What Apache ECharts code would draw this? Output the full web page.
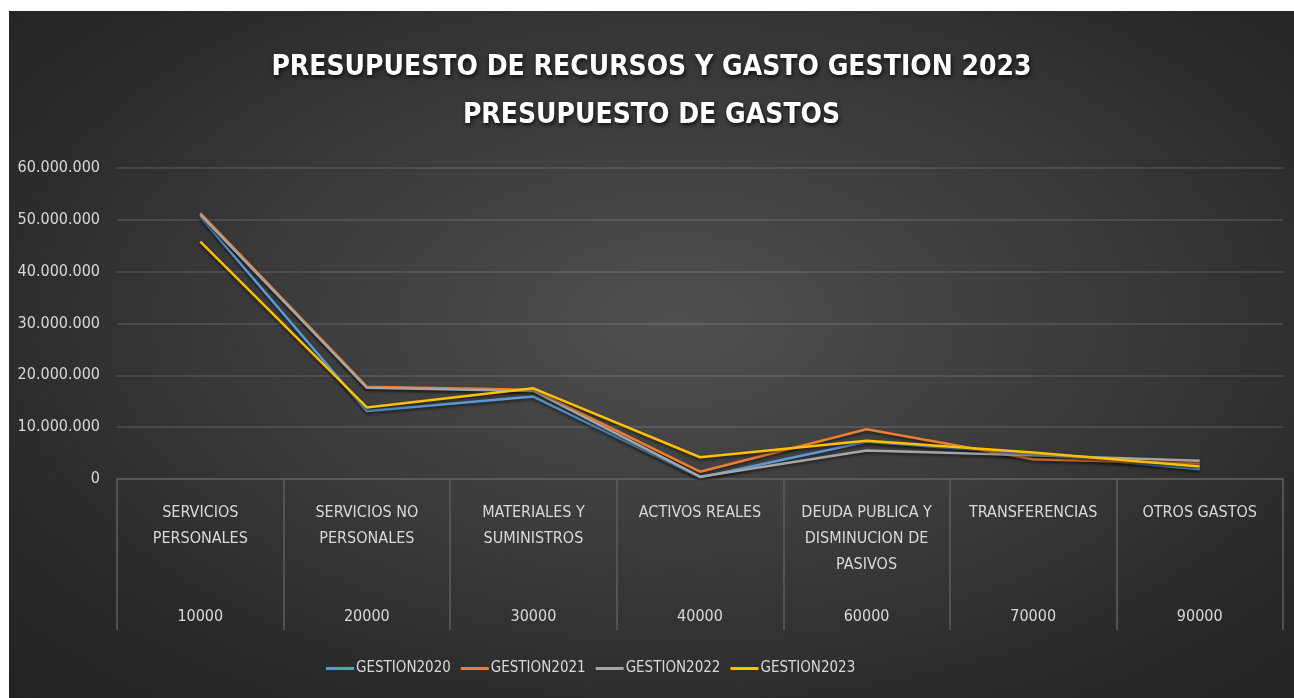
<!DOCTYPE html>
<html>
<head>
<meta charset="utf-8">
<script src="https://cdn.jsdelivr.net/npm/echarts@6/dist/echarts.min.js"></script>
<style>
  html, body { margin: 0; padding: 0; background: #fff; }
  #chart {
    position: absolute;
    left: 9px;
    top: 11px;
    width: 1285px;
    height: 687px;
    background: radial-gradient(ellipse at 52% 45%, #4f4f4f 0%, #3a3a3a 45%, #282828 80%, #232323 100%);
  }
</style>
</head>
<body>
<div id="chart"></div>
<script>
const categories = [
  "SERVICIOS\nPERSONALES",
  "SERVICIOS NO\nPERSONALES",
  "MATERIALES Y\nSUMINISTROS",
  "ACTIVOS REALES",
  "DEUDA PUBLICA Y\nDISMINUCION DE\nPASIVOS",
  "TRANSFERENCIAS",
  "OTROS GASTOS"
];
const codes = ["10000", "20000", "30000", "40000", "60000", "70000", "90000"];

const gestion2020 = [50600000, 13100000, 15900000, 300000, 7200000, 4800000, 1900000];
const gestion2021 = [51300000, 17800000, 17200000, 1400000, 9600000, 3800000, 3000000];
const gestion2022 = [51000000, 17600000, 17000000, 450000, 5500000, 4600000, 3500000];
const gestion2023 = [45800000, 13800000, 17500000, 4200000, 7400000, 5100000, 2400000];

const seriesNames = ["GESTION2020", "GESTION2021", "GESTION2022", "GESTION2023"];
const seriesColors = ["#5B9BD5", "#ED7D31", "#A5A5A5", "#FFC000"];

const FONT = "'DejaVu Sans Condensed', sans-serif";
const LABEL = "#d9d9d9";

function dots(v) {
  return String(v).replace(/\B(?=(\d{3})+(?!\d))/g, ".");
}

// category name padded to three lines, blank line, then the code
const xLabels = categories.map((c, i) => {
  const lines = c.split("\n");
  while (lines.length < 4) lines.push(" ");
  return lines.join("\n") + "\n" + codes[i];
});

const chart = echarts.init(document.getElementById("chart"));

chart.setOption({
  backgroundColor: "transparent",
  animation: false,
  title: {
    text: "PRESUPUESTO DE RECURSOS Y GASTO GESTION 2023\nPRESUPUESTO DE GASTOS",
    left: "center",
    top: 28,
    textStyle: {
      color: "#ffffff",
      fontFamily: FONT,
      fontWeight: "bold",
      fontSize: 28,
      lineHeight: 48,
      textShadowColor: "rgba(0,0,0,0.8)",
      textShadowBlur: 4,
      textShadowOffsetX: 1,
      textShadowOffsetY: 2
    }
  },
  legend: {
    left: 312,
    top: 645,
    icon: "rect",
    itemWidth: 28,
    itemHeight: 3,
    itemGap: 10,
    textStyle: { color: LABEL, fontFamily: FONT, fontSize: 15, padding: [0, 0, 0, -3] },
    data: seriesNames
  },
  grid: { left: 108, right: 11, top: 157, bottom: 219, containLabel: false },
  xAxis: {
    type: "category",
    boundaryGap: true,
    data: xLabels,
    axisLine: { show: true, lineStyle: { color: "#5e5e5e", width: 1.5 } },
    axisTick: { show: true, interval: 0, length: 151, lineStyle: { color: "#5e5e5e", width: 1.5 } },
    axisLabel: {
      interval: 0,
      margin: 21,
      color: LABEL,
      fontFamily: FONT,
      fontSize: 16,
      lineHeight: 26
    }
  },
  yAxis: {
    type: "value",
    min: 0,
    max: 60000000,
    interval: 10000000,
    axisLine: { show: false },
    axisTick: { show: false },
    splitLine: { lineStyle: { color: "rgba(255,255,255,0.14)", width: 1.5 } },
    axisLabel: {
      margin: 17,
      color: LABEL,
      fontFamily: FONT,
      fontSize: 16,
      formatter: dots
    }
  },
  series: [gestion2020, gestion2021, gestion2022, gestion2023].map((d, i) => ({
    name: seriesNames[i],
    type: "line",
    data: d,
    symbol: "none",
    color: seriesColors[i],
    lineStyle: {
      width: 2.5,
      color: seriesColors[i],
      shadowColor: "rgba(0,0,0,0.55)",
      shadowBlur: 3,
      shadowOffsetY: 2
    }
  }))
});
</script>
</body>
</html>
